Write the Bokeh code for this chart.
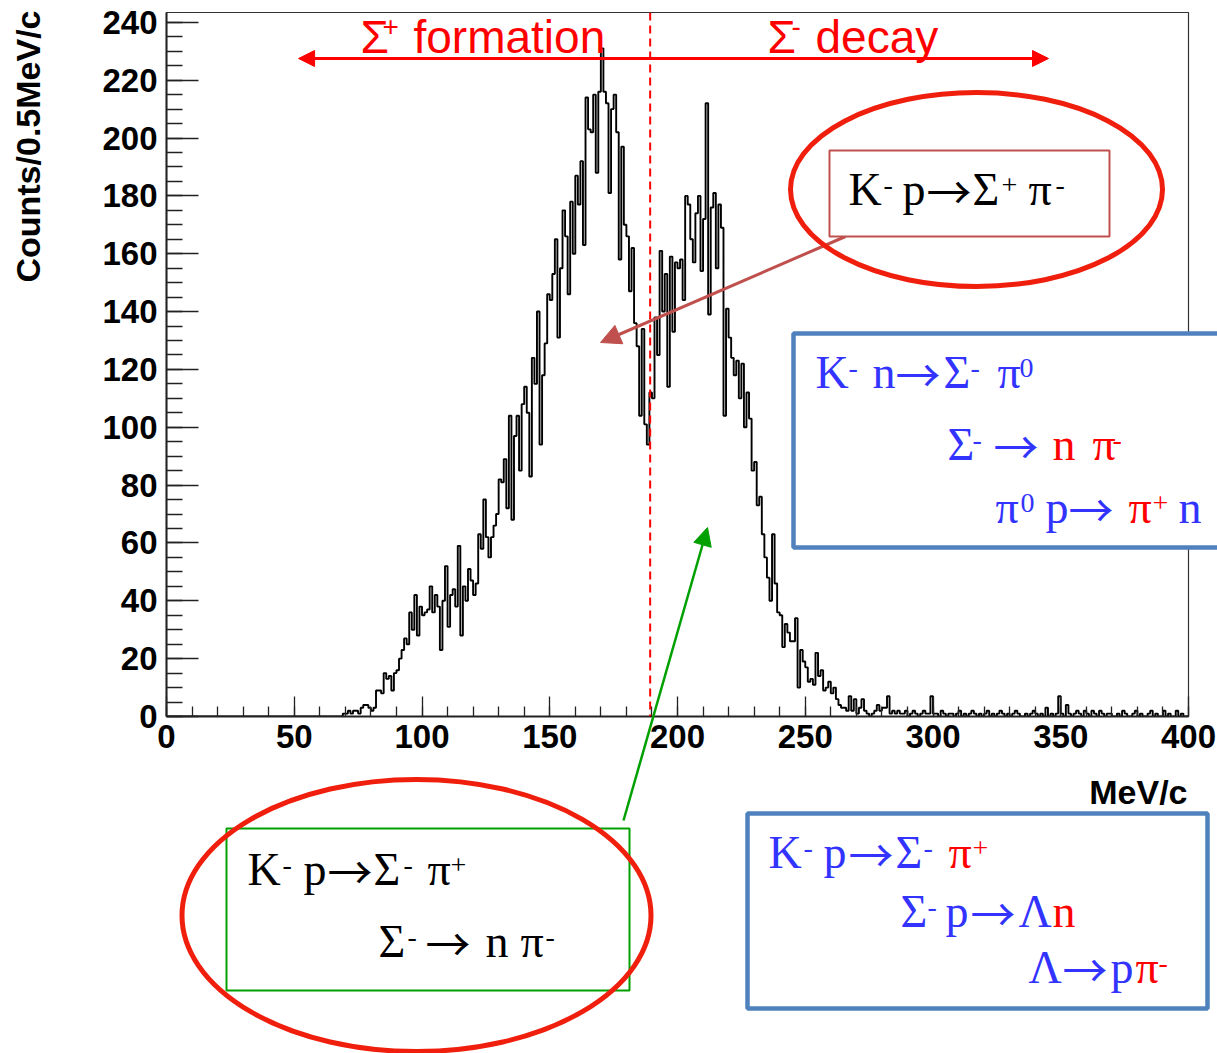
import numpy as np
from bokeh.plotting import figure
from bokeh.models import Range1d, SingleIntervalTicker, Span, Arrow, NormalHead, ColumnDataSource
from bokeh.core.properties import value
from bokeh.embed import file_html
from bokeh.resources import INLINE

WIDTH, HEIGHT = 1217, 1053
FRAME_LEFT, FRAME_RIGHT, FRAME_TOP, FRAME_BOTTOM = 166, 1188, 12, 716

# ---------------------------------------------------------------- data
# Pion momentum spectrum, counts per bin, 1 MeV/c wide bins.
# Each segment starts at the given momentum (MeV/c).
counts_rise = [0, 1, 1, 2, 1, 2, 2, 1, 3, 4, 4, 3, 2, 3, 9, 9, 8, 15, 13, 14,
               9, 15, 16, 20, 23, 27, 25, 36, 30, 42, 28, 38, 35, 36, 37, 45, 36, 42, 38, 23,
               40, 52, 31, 42, 44, 38, 59, 28, 45, 40, 51, 47, 42, 46, 63, 58, 75, 62, 55, 62,
               66, 70]                                   # 68 .. 129
counts_peak1 = [82, 81, 89, 72, 104, 68, 97, 104, 85, 108, 114, 105, 83, 124, 115, 140, 94, 118, 129, 146,
                144, 153, 165, 131, 155, 175, 166, 146, 178, 160, 187, 177, 192, 163, 214, 203, 202, 215, 188, 216,
                231, 216, 212, 181, 210, 215, 202, 158, 197, 170, 166, 147, 162, 136, 128, 104, 134, 101, 94, 112]  # 130 .. 189
counts_peak2 = [110, 138, 125, 161, 140, 153, 114, 159, 133, 157, 155, 158, 144, 180, 177, 165, 157, 174, 180, 154,
                172, 212, 139, 176, 181, 155, 177, 169, 104, 141, 131, 124, 118, 123, 110, 122, 100, 112, 103, 85,
                88, 73, 76, 63, 55, 48, 40, 63, 46, 36]  # 190 .. 239
counts_fall = [35, 24, 32, 29, 26, 26, 34, 10, 23, 19, 17, 12, 13, 11, 22, 14, 16, 9, 10, 12,
               8, 10, 6, 4, 3, 3, 2, 7, 2, 6, 1, 3, 6, 2, 1, 0, 1, 2, 4, 2,
               3, 3, 7, 1, 2, 1, 2, 1, 1, 2, 0, 1, 2, 1, 0, 1, 2, 1, 1, 7]  # 240 .. 299
counts_tail = [1, 1, 0, 2, 1, 0, 1, 1, 0, 1, 2, 0, 1, 0, 1, 2, 1, 0, 1, 0,
               1, 2, 0, 1, 0, 1, 2, 1, 0, 1, 0, 1, 2, 1, 0, 0, 1, 0, 1, 2,
               1, 0, 1, 0, 3, 0, 1, 0, 1, 7, 1, 0, 4, 1, 0, 1, 2, 1, 0, 2,
               1, 0, 2, 1, 0, 2, 1, 0, 1, 1, 0, 0, 1, 0, 2, 1, 0, 0, 1, 2,
               0, 1, 0, 0, 1, 2, 0, 1, 0, 0, 2, 0, 1, 0, 0, 2, 0, 1, 0, 0]  # 300 .. 399
segments = [(68, counts_rise), (130, counts_peak1), (190, counts_peak2),
            (240, counts_fall), (300, counts_tail)]

x_ticks_step, y_ticks_step = 50, 20
x_lo, x_hi = 0, 400
y_lo, y_hi = 0, 243.4
sigma_boundary = 189.3           # MeV/c, Sigma+ formation / Sigma- decay
x_title = "MeV/c"
y_title = "Counts/0.5MeV/c"

counts = np.zeros(x_hi - x_lo)
for start, seg in segments:
    counts[start:start + len(seg)] = seg
edges = np.arange(x_lo, x_hi + 1)
step_x = np.repeat(edges, 2)[1:-1]
step_y = np.repeat(counts, 2)

# ---------------------------------------------------------------- histogram
hist = figure(width=WIDTH, height=HEIGHT, title=None, output_backend="svg", toolbar_location=None,
              x_range=Range1d(x_lo, x_hi), y_range=Range1d(y_lo, y_hi),
              min_border_left=FRAME_LEFT, min_border_right=WIDTH - FRAME_RIGHT,
              min_border_top=FRAME_TOP, min_border_bottom=HEIGHT - FRAME_BOTTOM,
              background_fill_color="white", border_fill_color="white",
              outline_line_color="#333333", outline_line_width=1.2,
              styles={"position": "absolute", "left": "0px", "top": "0px"})
hist.xgrid.visible = False
hist.ygrid.visible = False

hist.line(step_x, step_y, line_color="black", line_width=1.9)

hist.add_layout(Span(location=sigma_boundary, dimension="height", line_color="#FF0000",
                     line_width=2, line_dash="8 5"))
hist.add_layout(Arrow(start=NormalHead(size=16, fill_color="#FF0000", line_color="#FF0000"),
                      end=NormalHead(size=16, fill_color="#FF0000", line_color="#FF0000"),
                      x_start=51.7, x_end=345.2, y_start=227.5, y_end=227.5,
                      line_color="#FF0000", line_width=3))

hist.xaxis.ticker = SingleIntervalTicker(interval=x_ticks_step, num_minor_ticks=5)
hist.yaxis.ticker = SingleIntervalTicker(interval=y_ticks_step, num_minor_ticks=4)
for ax in (hist.xaxis[0], hist.yaxis[0]):
    ax.major_tick_out = 0
    ax.minor_tick_out = 0
    ax.axis_line_width = 2
    ax.axis_line_color = "#222222"
    ax.major_tick_line_color = "#222222"
    ax.minor_tick_line_color = "#222222"
    ax.major_tick_line_width = 1.3
    ax.minor_tick_line_width = 1.3
    ax.major_label_text_font = "Liberation Sans"
    ax.major_label_text_font_style = "bold"
    ax.major_label_text_font_size = "33px"
    ax.major_label_text_color = "black"
hist.xaxis.major_tick_in = 20
hist.xaxis.minor_tick_in = 10
hist.yaxis.major_tick_in = 32
hist.yaxis.minor_tick_in = 16
hist.xaxis.major_label_standoff = 8
hist.yaxis.major_label_standoff = 9

# ---------------------------------------------------------------- notes layer
notes = figure(width=WIDTH, height=HEIGHT, title=None, output_backend="svg", toolbar_location=None,
               x_range=Range1d(0, WIDTH), y_range=Range1d(HEIGHT, 0),
               x_axis_type=None, y_axis_type=None, min_border=0,
               background_fill_color=None, border_fill_color=None, outline_line_color=None,
               styles={"position": "absolute", "left": "0px", "top": "0px"})
notes.xgrid.visible = False
notes.ygrid.visible = False

RED_RING = "#F01E0C"
BROWN = "#C0504D"
STEEL = "#4F81BD"
GREEN = "#00A000"
BLUE = "#3333FF"
RED = "#FF0000"

# the text glyph sits about a third of an em low on an alphabetic baseline
DROP = 0.34

# callout arrows
notes.add_layout(Arrow(end=NormalHead(size=20, fill_color=BROWN, line_color=BROWN),
                       x_start=845, y_start=236, x_end=600, y_end=342,
                       line_color=BROWN, line_width=3, level="underlay"))
notes.add_layout(Arrow(end=NormalHead(size=18, fill_color=GREEN, line_color=GREEN),
                       x_start=623, y_start=820, x_end=707, y_end=527,
                       line_color=GREEN, line_width=2.5, level="underlay"))

# reaction boxes
box_left = [829, 793, 747, 226]
box_right = [1109, 1232, 1207, 629]
box_top = [150, 333, 813, 828]
box_bottom = [236, 547, 1008, 990]
box_color = [BROWN, STEEL, STEEL, GREEN]
box_width = [2, 4.5, 4.5, 2]
notes.quad(left=box_left, right=box_right, top=box_top, bottom=box_bottom,
           fill_color="white", line_color=box_color, line_width=box_width)

# rings
notes.ellipse(x=[976, 416], y=[189, 915], width=[372, 469], height=[194, 272],
              fill_color=None, line_color=RED_RING, line_width=5)

ARROW = "\u2192"
# reaction text runs: left x, baseline y, text, colour, superscript flag
runs = [
    (848, 205, "K", "black", 0), (883, 205, "-", "black", 1), (902, 205, "p", "black", 0),
    (926, 205, ARROW, "black", 0), (972, 205, "\u03a3", "black", 0), (1001, 205, "+", "black", 1),
    (1028, 205, "\u03c0", "black", 0), (1055, 205, "-", "black", 1),

    (815, 388, "K", BLUE, 0), (848, 388, "-", BLUE, 1), (872, 388, "n", BLUE, 0),
    (895, 388, ARROW, BLUE, 0), (943, 388, "\u03a3", BLUE, 0), (970, 388, "-", BLUE, 1),
    (997, 388, "\u03c0", BLUE, 0), (1019, 388, "0", BLUE, 1),
    (947, 460, "\u03a3", BLUE, 0), (972, 460, "-", BLUE, 1), (993, 460, ARROW, BLUE, 0),
    (1052, 460, "n", RED, 0), (1092, 460, "\u03c0", RED, 0), (1112, 460, "-", RED, 1),
    (995, 523, "\u03c0", BLUE, 0), (1020, 523, "0", BLUE, 1), (1045, 523, "p", BLUE, 0),
    (1068, 523, ARROW, BLUE, 0), (1128, 523, "\u03c0", RED, 0), (1152, 523, "+", RED, 1),
    (1178, 523, "n", BLUE, 0),

    (768, 868, "K", BLUE, 0), (803, 868, "-", BLUE, 1), (823, 868, "p", BLUE, 0),
    (848, 868, ARROW, BLUE, 0), (895, 868, "\u03a3", BLUE, 0), (923, 868, "-", BLUE, 1),
    (948, 868, "\u03c0", RED, 0), (972, 868, "+", RED, 1),
    (900, 927, "\u03a3", BLUE, 0), (927, 927, "-", BLUE, 1), (945, 927, "p", BLUE, 0),
    (970, 927, ARROW, BLUE, 0), (1018, 927, "\u039b", BLUE, 0), (1052, 927, "n", RED, 0),
    (1028, 983, "\u039b", BLUE, 0), (1062, 983, ARROW, BLUE, 0), (1110, 983, "p", BLUE, 0),
    (1135, 983, "\u03c0", RED, 0), (1158, 983, "-", RED, 1),

    (247, 885, "K", "black", 0), (282, 885, "-", "black", 1), (303, 885, "p", "black", 0),
    (327, 885, ARROW, "black", 0), (373, 885, "\u03a3", "black", 0), (403, 885, "-", "black", 1),
    (427, 885, "\u03c0", "black", 0), (450, 885, "+", "black", 1),
    (378, 957, "\u03a3", "black", 0), (407, 957, "-", "black", 1), (425, 957, ARROW, "black", 0),
    (485, 957, "n", "black", 0), (520, 957, "\u03c0", "black", 0), (545, 957, "-", "black", 1),
]
run_size = [28 if r[4] else (45 if r[2] == ARROW else 46) for r in runs]
serif_src = ColumnDataSource(dict(
    x=[r[0] for r in runs],
    y=[r[1] - (11 if r[4] else 0) - DROP * s for r, s in zip(runs, run_size)],
    text=[r[2] for r in runs],
    color=[r[3] for r in runs],
    size=["%dpx" % s for s in run_size],
    font=["Noto Sans CJK JP" if r[2] == ARROW else "Liberation Serif" for r in runs],
))
notes.text(x="x", y="y", text="text", source=serif_src, text_color="color",
           text_font_size="size", text_font="font",
           text_align="left", text_baseline="alphabetic")

# region labels above the histogram
region_runs = [
    (360, 52, "\u03a3", 0), (382, 52, "+", 1), (413, 52, "formation", 0),
    (767, 52, "\u03a3", 0), (791, 52, "-", 1), (815, 52, "decay", 0),
]
region_size = [28 if r[3] else 46 for r in region_runs]
region_src = ColumnDataSource(dict(
    x=[r[0] for r in region_runs],
    y=[r[1] - (16 if r[3] else 0) - DROP * s for r, s in zip(region_runs, region_size)],
    text=[r[2] for r in region_runs],
    size=["%dpx" % s for s in region_size],
))
notes.text(x="x", y="y", text="text", source=region_src, text_color=RED,
           text_font_size="size", text_font=value("Liberation Sans"),
           text_align="left", text_baseline="alphabetic")

# axis titles, ROOT style: flush with the far end of each axis
notes.text(x=[1187], y=[803 - DROP * 34], text=[x_title], text_color="black",
           text_font=value("Liberation Sans"), text_font_style="bold",
           text_font_size="34px", text_align="right", text_baseline="alphabetic")
notes.text(x=[39 - DROP * 34], y=[10], text=[y_title], text_color="black", angle=np.pi / 2,
           text_font=value("Liberation Sans"), text_font_style="bold",
           text_font_size="34px", text_align="right", text_baseline="alphabetic")

p = [hist, notes]
open("out.html", "w").write(file_html(p, INLINE))
